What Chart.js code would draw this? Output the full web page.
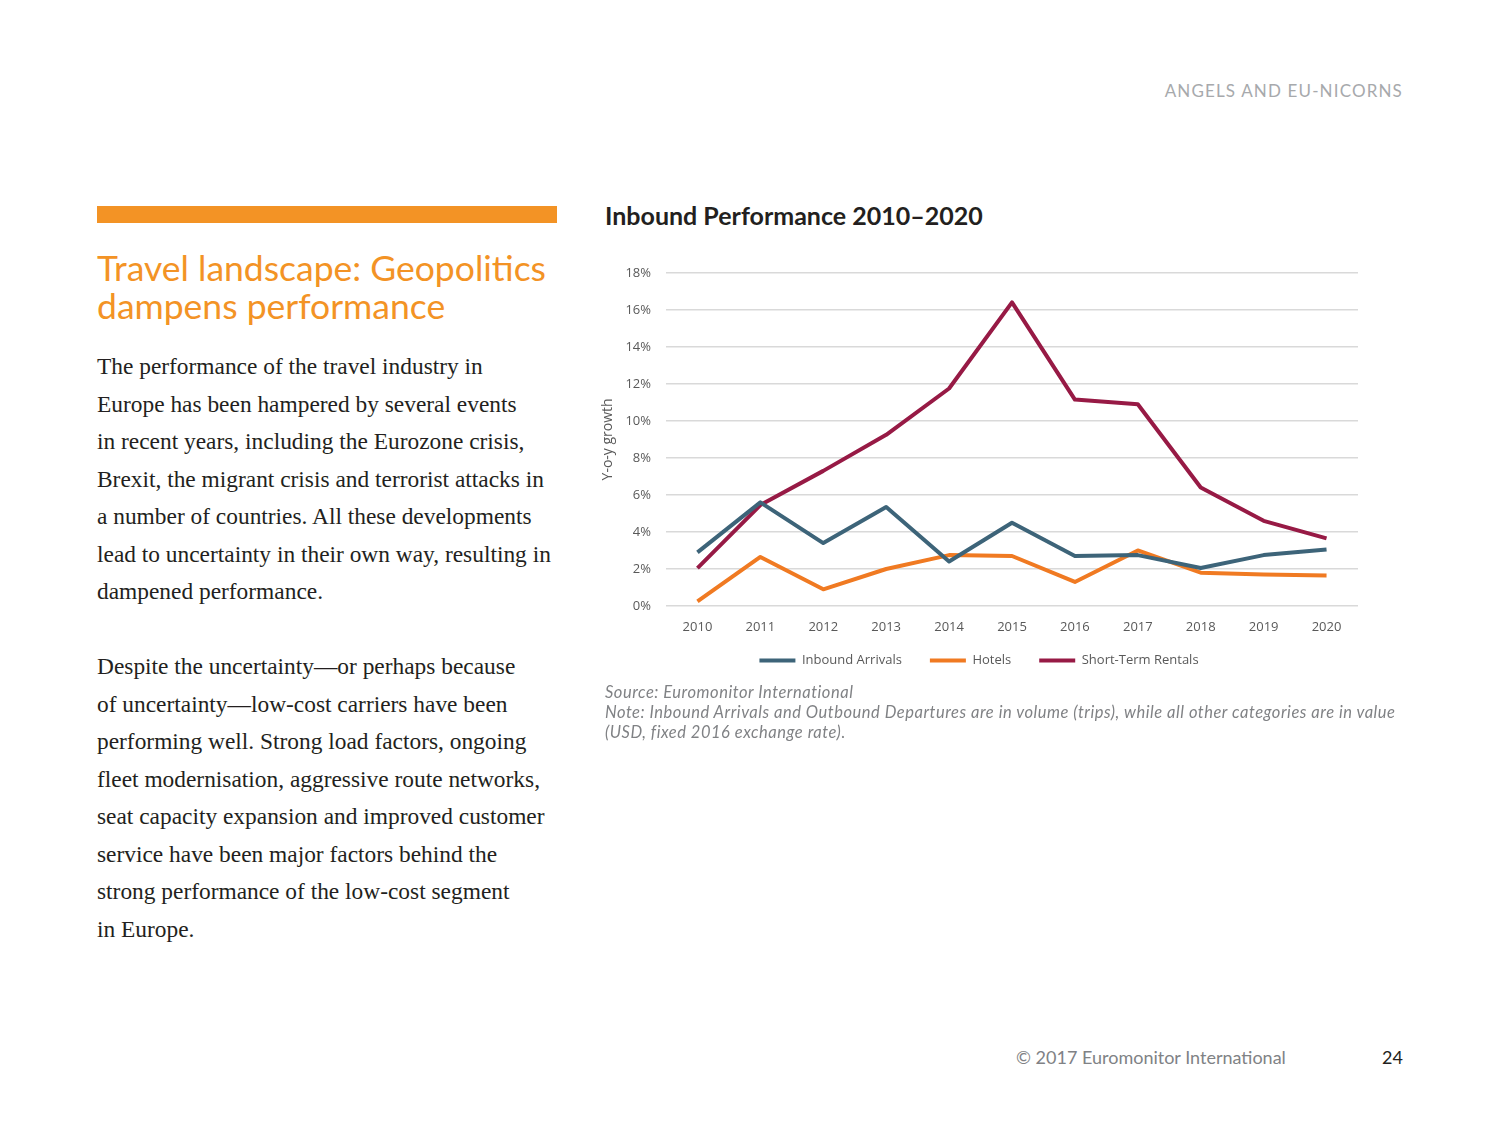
<!DOCTYPE html>
<html>
<head>
<meta charset="utf-8">
<script src="https://cdn.jsdelivr.net/npm/chart.js@4.4.1/dist/chart.umd.min.js"></script>
<style>
  html, body { margin: 0; padding: 0; background: #fff; }
  body { width: 1500px; height: 1125px; position: relative; overflow: hidden; font-family: Lato, sans-serif; }
  .runhead { position: absolute; right: 97px; top: 80px; font-size: 17px; color: #a7a9ac; letter-spacing: 1.15px; }
  .bar { position: absolute; left: 97px; top: 206px; width: 460px; height: 17px; background: #f39325; }
  .headline { position: absolute; left: 97px; top: 249px; font-size: 35.5px; line-height: 38px; color: #f39325; }
  .body { position: absolute; left: 97px; top: 348px; font-family: 'Liberation Serif', serif; font-size: 23.4px; line-height: 37.5px; color: #231f20; }
  .body p { margin: 0 0 37.5px 0; }
  .ctitle { position: absolute; left: 605px; top: 200px; font-size: 25px; font-weight: bold; color: #231f20; }
  .wrap { position: absolute; left: 600px; top: 250px; width: 770px; height: 447px; }
  .note { position: absolute; left: 605px; top: 682px; width: 820px; font-size: 16.5px; letter-spacing: 0.52px; line-height: 20px; font-style: italic; color: #808285; }
  .foot { position: absolute; left: 1016px; top: 1046px; font-size: 18px; color: #808285; }
  .page { position: absolute; right: 97px; top: 1046px; font-size: 18px; color: #231f20; }
</style>
</head>
<body>
<div class="runhead">ANGELS AND EU-NICORNS</div>
<div class="bar"></div>
<div class="headline">Travel landscape: Geopolitics<br>dampens performance</div>
<div class="body">
  <p>The performance of the travel industry in<br>Europe has been hampered by several events<br>in recent years, including the Eurozone crisis,<br>Brexit, the migrant crisis and terrorist attacks in<br>a number of countries. All these developments<br>lead to uncertainty in their own way, resulting in<br>dampened performance.</p>
  <p>Despite the uncertainty—or perhaps because<br>of uncertainty—low-cost carriers have been<br>performing well. Strong load factors, ongoing<br>fleet modernisation, aggressive route networks,<br>seat capacity expansion and improved customer<br>service have been major factors behind the<br>strong performance of the low-cost segment<br>in Europe.</p>
</div>
<div class="ctitle">Inbound Performance 2010–2020</div>
<div class="wrap"><canvas id="myChart"></canvas></div>
<div class="note">Source: Euromonitor International<br>Note: Inbound Arrivals and Outbound Departures are in volume (trips), while all other categories are in value<br>(USD, fixed 2016 exchange rate).</div>
<div class="foot">© 2017 Euromonitor International</div>
<div class="page">24</div>

<script>
'use strict';

const years = ['2010', '2011', '2012', '2013', '2014', '2015', '2016', '2017', '2018', '2019', '2020'];
const inboundArrivals = [2.9, 5.6, 3.4, 5.35, 2.4, 4.5, 2.7, 2.75, 2.05, 2.75, 3.05];
const hotels = [0.25, 2.65, 0.9, 2.0, 2.75, 2.7, 1.3, 3.0, 1.8, 1.7, 1.65];
const shortTermRentals = [2.05, 5.45, 7.3, 9.25, 11.75, 16.4, 11.15, 10.9, 6.4, 4.6, 3.65];
const yTicks = [0, 2, 4, 6, 8, 10, 12, 14, 16, 18];

const canvas = document.getElementById('myChart');
const tickFont = { family: 'Open Sans', size: 13 };

// Subir la leyenda más cerca del eje X
const legendLift = {
  id: 'legendLift',
  afterLayout(chart) {
    chart.legend.top -= 20;
    chart.legend.bottom -= 20;
  },
};

// Serie de la línea
const makeLine = function (label, data, color) {
  return {
    label: label,
    data: data,
    borderColor: color,
    backgroundColor: color,
    borderWidth: 4,
    pointRadius: 0,
    tension: 0,
    borderJoinStyle: 'round',
  };
};

const myChart = new Chart(canvas, {
  type: 'line',
  data: {
    labels: years,
    datasets: [
      makeLine('Inbound Arrivals', inboundArrivals, '#3d6479'),
      makeLine('Hotels', hotels, '#f07a22'),
      makeLine('Short-Term Rentals', shortTermRentals, '#971a45'),
    ],
  },
  plugins: [legendLift],
  options: {
    responsive: true,
    maintainAspectRatio: false,
    animation: false,
    layout: { padding: { left: 0, right: 12, top: 11, bottom: 0 } },
    plugins: {
      legend: {
        position: 'bottom',
        labels: {
          usePointStyle: true,
          pointStyle: 'line',
          pointStyleWidth: 36,
          boxWidth: 36,
          padding: 28,
          color: '#595959',
          font: { family: 'Open Sans', size: 13 },
        },
      },
      tooltip: { enabled: false },
    },
    scales: {
      x: {
        offset: true,
        grid: { display: false },
        border: { display: false },
        ticks: { color: '#595959', font: tickFont, padding: 5 },
        afterFit: function (scale) { scale.height = 40; },
      },
      y: {
        min: 0,
        max: 18,
        afterBuildTicks: function (scale) {
          scale.ticks = yTicks.map(v => ({ value: v }));
        },
        afterFit: function (scale) { scale.width = 66; },
        grid: { color: '#d9d9d9', lineWidth: 1.5, drawTicks: false },
        border: { display: false },
        ticks: {
          color: '#595959',
          font: { family: 'Open Sans', size: 13 },
          padding: 15,
          callback: v => v + '%',
        },
        title: {
          display: true,
          text: 'Y-o-y growth',
          color: '#595959',
          font: { family: 'Open Sans', size: 14 },
          padding: 0,
        },
      },
    },
  },
});
</script>
</body>
</html>
